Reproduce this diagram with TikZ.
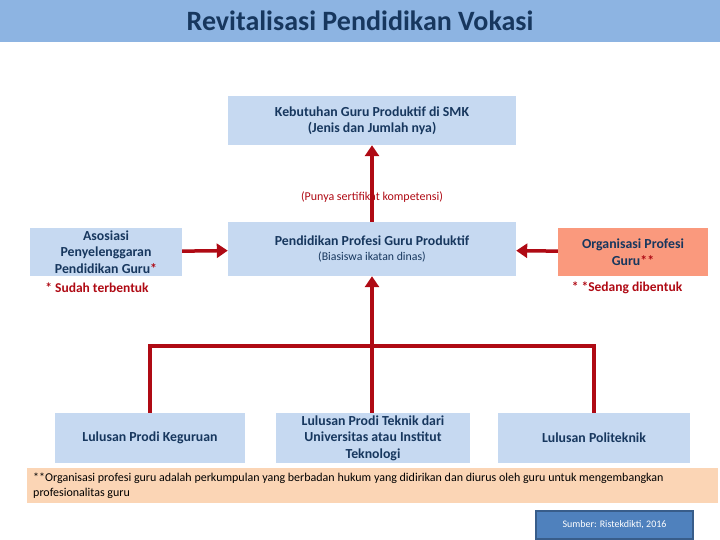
\documentclass[tikz,border=0pt]{standalone}
\usepackage{fontspec}
\setmainfont{Carlito}
\usetikzlibrary{arrows.meta}
\definecolor{bandblue}{RGB}{141,180,226}
\definecolor{boxblue}{RGB}{198,217,241}
\definecolor{boxsalmon}{RGB}{250,153,125}
\definecolor{notepeach}{RGB}{251,213,181}
\definecolor{navytext}{RGB}{23,55,94}
\definecolor{arrowred}{RGB}{175,10,20}
\definecolor{srcblue}{RGB}{79,129,189}
\definecolor{srcedge}{RGB}{56,93,138}
\begin{document}
\begin{tikzpicture}[
  x=1pt, y=-1pt,
  box/.style={
    fill=boxblue,
    align=center,
    inner sep=0pt,
    text=navytext,
    font=\fontsize{13.8}{16.5}\selectfont\bfseries
  },
  redtext/.style={text=arrowred, font=\fontsize{13.5}{15}\selectfont\bfseries},
  arrow/.style={-{Triangle[width=14pt,length=11pt]}, line width=3.5pt, draw=arrowred},
  link/.style={line width=3.5pt, draw=arrowred}
]
\useasboundingbox (0,0) rectangle (720,540);
\fill[bandblue] (0,0) rectangle (720,42);
\node (title) at (360,21) [text=navytext, font=\fontsize{28}{30}\selectfont\bfseries] {Revitalisasi Pendidikan Vokasi};

\node (keb) at (372,120.5) [box, minimum width=288pt, minimum height=49pt] {Kebutuhan Guru Produktif di SMK\\(Jenis dan Jumlah nya)};
\node (pend) at (372,249) [box, minimum width=288pt, minimum height=54pt] {Pendidikan Profesi Guru Produktif\\[-2pt]{\fontsize{11.8}{13}\selectfont\mdseries (Biasiswa ikatan dinas)}};
\node (asos) at (106,252) [box, minimum width=152pt, minimum height=48pt] {Asosiasi\\Penyelenggaran\\Pendidikan Guru{\color{arrowred}*}};
\node (org) at (633,252) [box, fill=boxsalmon, minimum width=150pt, minimum height=48pt] {Organisasi Profesi\\Guru{\color{arrowred}**}};
\node (sudah) at (97,288) [redtext] {* Sudah terbentuk};
\node (sedang) at (627,288) [redtext] {* *Sedang dibentuk};

\node (keg) at (150,438) [box, minimum width=190pt, minimum height=50pt] {Lulusan Prodi Keguruan};
\node (tek) at (373,438) [box, minimum width=194pt, minimum height=50pt] {Lulusan Prodi Teknik dari\\Universitas atau Institut\\Teknologi};
\node (pol) at (594,438) [box, minimum width=192pt, minimum height=50pt] {Lulusan Politeknik};
\coordinate (jn) at (372,346);

\draw[arrow] (pend) -- (keb);
\node (punya) at (372,197) [text=arrowred, font=\fontsize{12}{14}\selectfont] {(Punya sertifikat kompetensi)};
\draw[arrow] (asos) -- (pend);
\draw[arrow] (org) -- (pend);
\draw[arrow] (jn) -- (pend);
\draw[link] (jn) -| (keg.north);
\draw[link] (jn) -| (pol.north);
\draw[link] (jn) -- (tek.north -| jn);

\node (note) at (372.5,485.5) [fill=notepeach, minimum width=691pt, minimum height=35pt, inner sep=0pt] {};
\node (notetext) at (33,485.5) [anchor=west, align=left, inner sep=0pt, font=\fontsize{12}{15}\selectfont] {**Organisasi profesi guru adalah perkumpulan yang berbadan hukum yang didirikan dan diurus oleh guru untuk mengembangkan\\profesionalitas guru};
\node (sumber) at (614.5,525) [fill=srcblue, draw=srcedge, line width=1.2pt, minimum width=157pt, minimum height=28pt, inner sep=0pt, text=white, font=\fontsize{10}{12}\selectfont] {Sumber: Ristekdikti, 2016};
\end{tikzpicture}
\end{document}
